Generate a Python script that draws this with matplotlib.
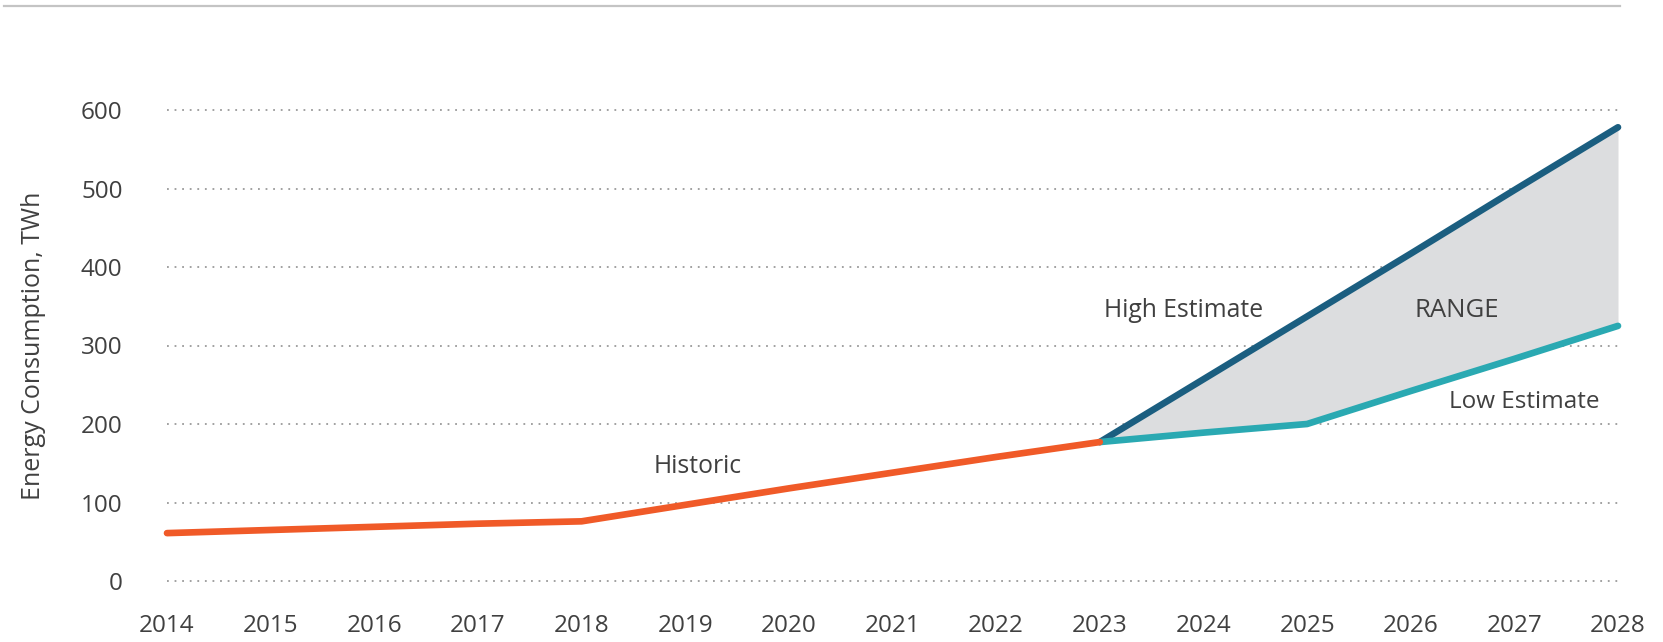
import matplotlib
matplotlib.use("Agg")
import matplotlib.pyplot as plt
from matplotlib.lines import Line2D

plt.rcParams['font.family'] = ['Open Sans', 'DejaVu Sans']

# Historic consumption and projected range (TWh)
hist_years = [2014, 2015, 2016, 2017, 2018, 2019, 2020, 2021, 2022, 2023]
hist_vals = [61, 65, 69, 73, 76, 97, 118, 138, 158, 177]

proj_years = [2023, 2024, 2025, 2026, 2027, 2028]
high_vals = [177, 257, 337, 417, 498, 578]
low_vals = [177, 189, 200, 242, 283, 325]

x_ticks = list(range(2014, 2029))
y_ticks = [0, 100, 200, 300, 400, 500, 600]

W, H = 1663, 642
fig = plt.figure(figsize=(W / 100, H / 100), dpi=100)
ax = fig.add_axes([167 / W, 1 - 581 / H, (1618 - 167) / W, (581 - 110) / H])

text_col = '#404040'
orange = '#f05a28'
navy = '#1b5e80'
teal = '#2aa9b2'

ax.set_xlim(2014, 2028)
ax.set_ylim(0, 600)

for y in y_ticks:
    ax.axhline(y, color='#9a9a9a', lw=1.3, ls=(0, (1, 3.2)), zorder=1, clip_on=False)

ax.fill_between(proj_years, low_vals, high_vals, color='#dcdddf', lw=0, zorder=2)
ax.plot(hist_years, hist_vals, color=orange, lw=4.8, solid_capstyle='round',
        solid_joinstyle='round', zorder=4, clip_on=False)
ax.plot(proj_years, high_vals, color=navy, lw=4.8, solid_capstyle='round',
        solid_joinstyle='round', zorder=3, clip_on=False)
ax.plot(proj_years, low_vals, color=teal, lw=4.8, solid_capstyle='round',
        solid_joinstyle='round', zorder=3, clip_on=False)

for s in ax.spines.values():
    s.set_visible(False)

ax.set_xticks(x_ticks)
ax.set_xticklabels([str(v) for v in x_ticks])
ax.set_yticks(y_ticks)
ax.set_yticklabels([str(v) for v in y_ticks])
ax.tick_params(axis='both', length=0, labelsize=17.5, labelcolor=text_col)
ax.tick_params(axis='x', pad=24)
ax.tick_params(axis='y', pad=32)

ax.set_ylabel('Energy Consumption, TWh', fontsize=18, color=text_col, labelpad=25)

ax.text(2019.12, 146, 'Historic', fontsize=17.8, color=text_col, ha='center', va='center')
ax.text(2023.81, 344, 'High Estimate', fontsize=17.8, color=text_col, ha='center', va='center')
ax.text(2026.44, 344, 'RANGE', fontsize=18.5, color=text_col, ha='center', va='center')
ax.text(2027.1, 228, 'Low Estimate', fontsize=17.5, color=text_col, ha='center', va='center')

# thin rule across the top of the figure
fig.add_artist(Line2D([4 / W, 1620 / W], [1 - 6 / H, 1 - 6 / H], transform=fig.transFigure,
                      color='#c4c4c4', lw=1.6))

fig.savefig('out.png', dpi=100, facecolor='white')
